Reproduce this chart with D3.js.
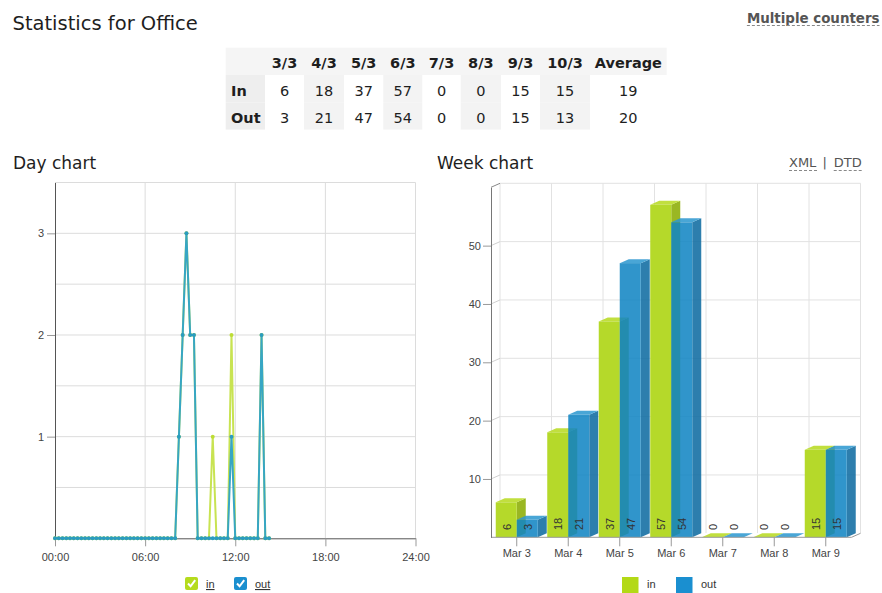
<!DOCTYPE html>
<html>
<head>
<meta charset="utf-8">
<script src="https://cdnjs.cloudflare.com/ajax/libs/d3/7.8.5/d3.min.js"></script>
<style>
    body { margin: 0; background: #fff; }
    svg { display: block; font-family: "DejaVu Sans", sans-serif; }
    .tick text, .axis-text { font-family: "Liberation Sans", Arial, sans-serif; font-size: 11px; fill: #444; }
</style>
</head>
<body>
<div id="page"></div>
<script>

// summary table
const tableDays = ["3/3", "4/3", "5/3", "6/3", "7/3", "8/3", "9/3", "10/3"];
const tableIn = [6, 18, 37, 57, 0, 0, 15, 15];
const tableOut = [3, 21, 47, 54, 0, 0, 15, 13];
const tableAvg = [19, 20];

// week chart
const weekDays = ["Mar 3", "Mar 4", "Mar 5", "Mar 6", "Mar 7", "Mar 8", "Mar 9"];
const weekIn = [6, 18, 37, 57, 0, 0, 15];
const weekOut = [3, 21, 47, 54, 0, 0, 15];
const weekTicks = [10, 20, 30, 40, 50];

// day chart: one value every 15 minutes, 00:00 .. 14:15
const dayIn = [
    0, 0, 0, 0, 0, 0, 0, 0, 0, 0, 0, 0, 0, 0, 0, 0,
    0, 0, 0, 0, 0, 0, 0, 0, 0, 0, 0, 0, 0, 0, 0, 0,
    0, 1, 2, 3, 2, 2, 0, 0, 0, 0, 1, 0, 0, 0, 0, 2,
    0, 0, 0, 0, 0, 0, 0, 2, 0, 0
];
const dayOut = [
    0, 0, 0, 0, 0, 0, 0, 0, 0, 0, 0, 0, 0, 0, 0, 0,
    0, 0, 0, 0, 0, 0, 0, 0, 0, 0, 0, 0, 0, 0, 0, 0,
    0, 1, 2, 3, 2, 2, 0, 0, 0, 0, 0, 0, 0, 0, 0, 1,
    0, 0, 0, 0, 0, 0, 0, 2, 0, 0
];
const dayStepHours = 0.25;
const dayTicks = [1, 2, 3];
const hourTicks = [0, 6, 12, 18, 24];
const hourLabels = ["00:00", "06:00", "12:00", "18:00", "24:00"];


const svg = d3.select("#page").append("svg")
    .attr("width", 882)
    .attr("height", 593);

// page headings
svg.append("text")
    .attr("x", 12.5).attr("y", 30.3)
    .attr("font-size", 19.5).attr("fill", "#1e1e1e")
    .text("Statistics for Office");

let mc = svg.append("text")
    .attr("x", 879.5).attr("y", 22.7)
    .attr("text-anchor", "end")
    .attr("font-size", 13.4).attr("font-weight", "bold").attr("fill", "#555")
    .text("Multiple counters");
let mcBox = mc.node().getBBox();
svg.append("line")
    .attr("x1", mcBox.x).attr("x2", mcBox.x + mcBox.width)
    .attr("y1", 25.5).attr("y2", 25.5)
    .attr("stroke", "#888").attr("stroke-dasharray", "3,2");


class StatsTable {

    constructor(svg) {
        this.svg = svg;
        this.initVis();
    }

    initVis() {
        let vis = this;

        vis.left = 225.7;
        vis.top = 47.7;
        vis.rowH = 27.3;
        vis.colWidths = [39.3, 39, 40, 39.3, 39, 38.4, 40.3, 39, 50, 76.7];
        vis.edges = Array.from(d3.cumsum([vis.left, ...vis.colWidths]));

        vis.rows = [
            ["", ...tableDays, "Average"],
            ["In", ...tableIn, tableAvg[0]],
            ["Out", ...tableOut, tableAvg[1]]
        ];

        vis.g = vis.svg.append("g").attr("class", "stats-table");

        // header background
        vis.g.append("rect")
            .attr("x", vis.left).attr("y", vis.top)
            .attr("width", vis.edges[vis.edges.length - 1] - vis.left)
            .attr("height", vis.rowH)
            .attr("fill", "#f5f5f5");

        vis.rows.forEach((row, r) => {
            let y = vis.top + r * vis.rowH;
            row.forEach((cell, c) => {
                let x0 = vis.edges[c], x1 = vis.edges[c + 1];
                if (r > 0) {
                    let fill = c === 0 ? "#eeeeee" : (c % 2 === 0 && c < 9 ? "#f3f3f3" : null);
                    if (fill) {
                        vis.g.append("rect")
                            .attr("x", x0).attr("y", y)
                            .attr("width", x1 - x0).attr("height", vis.rowH)
                            .attr("fill", fill);
                    }
                }
                let bold = r === 0 || c === 0;
                vis.g.append("text")
                    .attr("x", c === 0 ? x0 + 5.3 : (x0 + x1) / 2)
                    .attr("y", y + 20.7)
                    .attr("text-anchor", c === 0 ? "start" : "middle")
                    .attr("font-size", 14.5)
                    .attr("font-weight", bold ? "bold" : "normal")
                    .attr("fill", "#1e1e1e")
                    .text(cell);
            });
        });
    }
}


class DayChart {

    constructor(svg) {
        this.svg = svg;
        this.initVis();
    }

    initVis() {
        let vis = this;

        vis.g = vis.svg.append("g").attr("class", "day-chart");

        vis.g.append("text")
            .attr("x", 13).attr("y", 169)
            .attr("font-size", 17).attr("fill", "#1e1e1e")
            .text("Day chart");

        vis.x = d3.scaleLinear().domain([0, 24]).range([55, 415.5]);
        vis.y = d3.scaleLinear().domain([0, 3.5]).range([538.3, 182.5]);

        // grid
        vis.g.append("g").selectAll("line.h")
            .data(d3.range(0.5, 3.51, 0.5))
            .enter().append("line")
            .attr("x1", vis.x(0)).attr("x2", vis.x(24))
            .attr("y1", d => vis.y(d)).attr("y2", d => vis.y(d))
            .attr("stroke", "#dcdcdc");
        vis.g.append("g").selectAll("line.v")
            .data(hourTicks.slice(1))
            .enter().append("line")
            .attr("x1", d => vis.x(d)).attr("x2", d => vis.x(d))
            .attr("y1", vis.y(3.5)).attr("y2", vis.y(0))
            .attr("stroke", "#dcdcdc");

        // axes
        vis.yAxis = vis.g.append("g")
            .attr("transform", `translate(${vis.x(0)},0)`)
            .call(d3.axisLeft(vis.y).tickValues(dayTicks).tickFormat(d3.format("d"))
                .tickSize(8).tickPadding(3).tickSizeOuter(0));
        vis.xAxis = vis.g.append("g")
            .attr("transform", `translate(0,${vis.y(0)})`)
            .call(d3.axisBottom(vis.x).tickValues(hourTicks)
                .tickFormat((d, i) => hourLabels[i])
                .tickSize(8).tickPadding(7).tickSizeOuter(0));

        vis.g.selectAll(".domain").attr("stroke", "#555");
        vis.g.selectAll(".tick line").attr("stroke", "#999");
        vis.g.selectAll(".tick text").attr("font-size", null).attr("font-family", null);

        vis.series = [
            {key: "in", values: dayIn, line: "#c8e352", dot: "#bddd35"},
            {key: "out", values: dayOut, line: "#37a6c4", dot: "#2b9cc0"}
        ];

        vis.line = d3.line()
            .x((d, i) => vis.x(i * dayStepHours))
            .y(d => vis.y(d));

        vis.series.forEach(s => {
            vis.g.append("path")
                .datum(s.values)
                .attr("d", vis.line)
                .attr("fill", "none")
                .attr("stroke", s.line)
                .attr("stroke-width", 2)
                .attr("stroke-linejoin", "round");
            vis.g.append("g").selectAll("circle")
                .data(s.values)
                .enter().append("circle")
                .attr("cx", (d, i) => vis.x(i * dayStepHours))
                .attr("cy", d => vis.y(d))
                .attr("r", 2)
                .attr("fill", s.dot);
        });

        // legend with checkboxes
        let legend = [
            {label: "in", color: "#b5db1d", x: 185},
            {label: "out", color: "#1b8fcf", x: 234}
        ];
        legend.forEach(l => {
            let lg = vis.g.append("g").attr("transform", `translate(${l.x},577)`);
            lg.append("rect")
                .attr("width", 13).attr("height", 13).attr("rx", 2)
                .attr("fill", l.color);
            lg.append("path")
                .attr("d", "M3,6.5 L5.6,9.3 L10.2,3.2")
                .attr("fill", "none").attr("stroke", "#fff").attr("stroke-width", 2);
            lg.append("text")
                .attr("class", "axis-text")
                .attr("x", 21).attr("y", 11)
                .attr("text-decoration", "underline")
                .style("fill", "#333")
                .text(l.label);
        });
    }
}


class WeekChart {

    constructor(svg) {
        this.svg = svg;
        this.initVis();
    }

    initVis() {
        let vis = this;

        vis.g = vis.svg.append("g").attr("class", "week-chart");

        vis.g.append("text")
            .attr("x", 437).attr("y", 169)
            .attr("font-size", 17).attr("fill", "#1e1e1e")
            .text("Week chart");

        // XML | DTD links
        let links = vis.g.append("g").attr("font-size", 13).attr("fill", "#555");
        let xml = links.append("text").attr("x", 789).attr("y", 166.7).text("XML");
        links.append("text").attr("x", 822.5).attr("y", 166.7).text("|");
        let dtd = links.append("text").attr("x", 861.7).attr("y", 166.7).attr("text-anchor", "end").text("DTD");
        [xml, dtd].forEach(t => {
            let b = t.node().getBBox();
            links.append("line")
                .attr("x1", b.x).attr("x2", b.x + b.width)
                .attr("y1", 170.5).attr("y2", 170.5)
                .attr("stroke", "#888").attr("stroke-dasharray", "3,2");
        });

        vis.depth = {x: 9, y: -4};
        vis.left = 491;
        vis.right = 851.5;

        vis.x0 = d3.scaleBand().domain(weekDays).range([vis.left, vis.right])
            .paddingInner(0.1845).paddingOuter(0.0922);
        vis.x1 = d3.scaleBand().domain(["in", "out"]).range([0, vis.x0.bandwidth()]);
        vis.y = d3.scaleLinear().domain([0, 60]).range([537.3, 187.3]);

        vis.step = vis.x0.step();
        let dx = vis.depth.x, dy = vis.depth.y;
        let backTop = vis.y(60) + dy, backBottom = vis.y(0) + dy;

        // back wall grid
        let grid = vis.g.append("g");
        grid.selectAll("line.v")
            .data(d3.range(weekDays.length + 1))
            .enter().append("line")
            .attr("x1", k => vis.left + dx + k * vis.step)
            .attr("x2", k => vis.left + dx + k * vis.step)
            .attr("y1", backTop).attr("y2", backBottom)
            .attr("stroke", "#e2e2e2");
        grid.selectAll("line.h")
            .data([...weekTicks, 60])
            .enter().append("line")
            .attr("x1", vis.left + dx).attr("x2", vis.right + dx)
            .attr("y1", d => vis.y(d) + dy).attr("y2", d => vis.y(d) + dy)
            .attr("stroke", "#e2e2e2");
        // left wall diagonals
        grid.selectAll("line.d")
            .data([...weekTicks, 60])
            .enter().append("line")
            .attr("x1", vis.left).attr("x2", vis.left + dx)
            .attr("y1", d => vis.y(d)).attr("y2", d => vis.y(d) + dy)
            .attr("stroke", d => d === 60 ? "#888" : "#d0d0d0");

        // floor
        vis.g.append("path")
            .attr("d", `M${vis.left},${vis.y(0)} L${vis.left + dx},${backBottom} L${vis.right + dx},${backBottom} L${vis.right},${vis.y(0)} Z`)
            .attr("fill", "#fff");

        vis.colors = {
            in: {front: "#b5d92a", side: "#9ab723", top: "#c1df3e", opacity: 1},
            out: {front: "#1286c4", side: "#0f6ca2", top: "#2f99d0", opacity: 0.87}
        };

        weekDays.forEach((day, i) => {
            [["in", weekIn[i]], ["out", weekOut[i]]].forEach(([key, v]) => {
                let bx = vis.x0(day) + vis.x1(key);
                vis.drawBar(bx, vis.x1.bandwidth(), v, vis.colors[key]);
                vis.g.append("text")
                    .attr("class", "axis-text")
                    .attr("transform", `translate(${bx + vis.x1.bandwidth() / 2 + 0.5},530) rotate(-90)`)
                    .attr("dominant-baseline", "central")
                    .style("fill", "#333")
                    .text(v);
            });
        });

        // front floor edge
        vis.g.append("path")
            .attr("d", `M${vis.left},${vis.y(0)} L${vis.right},${vis.y(0)} L${vis.right + dx},${backBottom}`)
            .attr("fill", "none").attr("stroke", "#999");

        // axes
        vis.g.append("g")
            .attr("transform", `translate(${vis.left},0)`)
            .call(d3.axisLeft(vis.y).tickValues(weekTicks).tickSize(8).tickPadding(2).tickSizeOuter(0));
        vis.g.append("g")
            .attr("transform", `translate(0,${vis.y(0)})`)
            .call(d3.axisBottom(vis.x0).tickSize(9).tickPadding(3).tickSizeOuter(0))
            .select(".domain").remove();

        vis.g.selectAll(".domain").attr("stroke", "#777");
        vis.g.selectAll(".tick line").attr("stroke", "#999");
        vis.g.selectAll(".tick text").attr("font-size", null).attr("font-family", null);

        // legend
        let legend = [
            {label: "in", color: "#b3d916", x: 622},
            {label: "out", color: "#1a8fd0", x: 676}
        ];
        legend.forEach(l => {
            let lg = vis.g.append("g").attr("transform", `translate(${l.x},577)`);
            lg.append("rect").attr("width", 16.5).attr("height", 16).attr("fill", l.color);
            lg.append("text")
                .attr("class", "axis-text")
                .attr("x", 25).attr("y", 11)
                .style("fill", "#333")
                .text(l.label);
        });
    }

    drawBar(x, w, v, c) {
        let vis = this;
        let dx = vis.depth.x, dy = vis.depth.y;
        let yb = vis.y(0), yt = vis.y(v);

        let bar = vis.g.append("g").attr("opacity", c.opacity);
        bar.append("path")
            .attr("d", `M${x + w},${yt} L${x + w + dx},${yt + dy} L${x + w + dx},${yb + dy} L${x + w},${yb} Z`)
            .attr("fill", c.side);
        bar.append("path")
            .attr("d", `M${x},${yt} L${x + dx},${yt + dy} L${x + w + dx},${yt + dy} L${x + w},${yt} Z`)
            .attr("fill", c.top);
        bar.append("rect")
            .attr("x", x).attr("y", yt)
            .attr("width", w).attr("height", yb - yt)
            .attr("fill", c.front);
    }
}


new StatsTable(svg);
new DayChart(svg);
new WeekChart(svg);

</script>
</body>
</html>
